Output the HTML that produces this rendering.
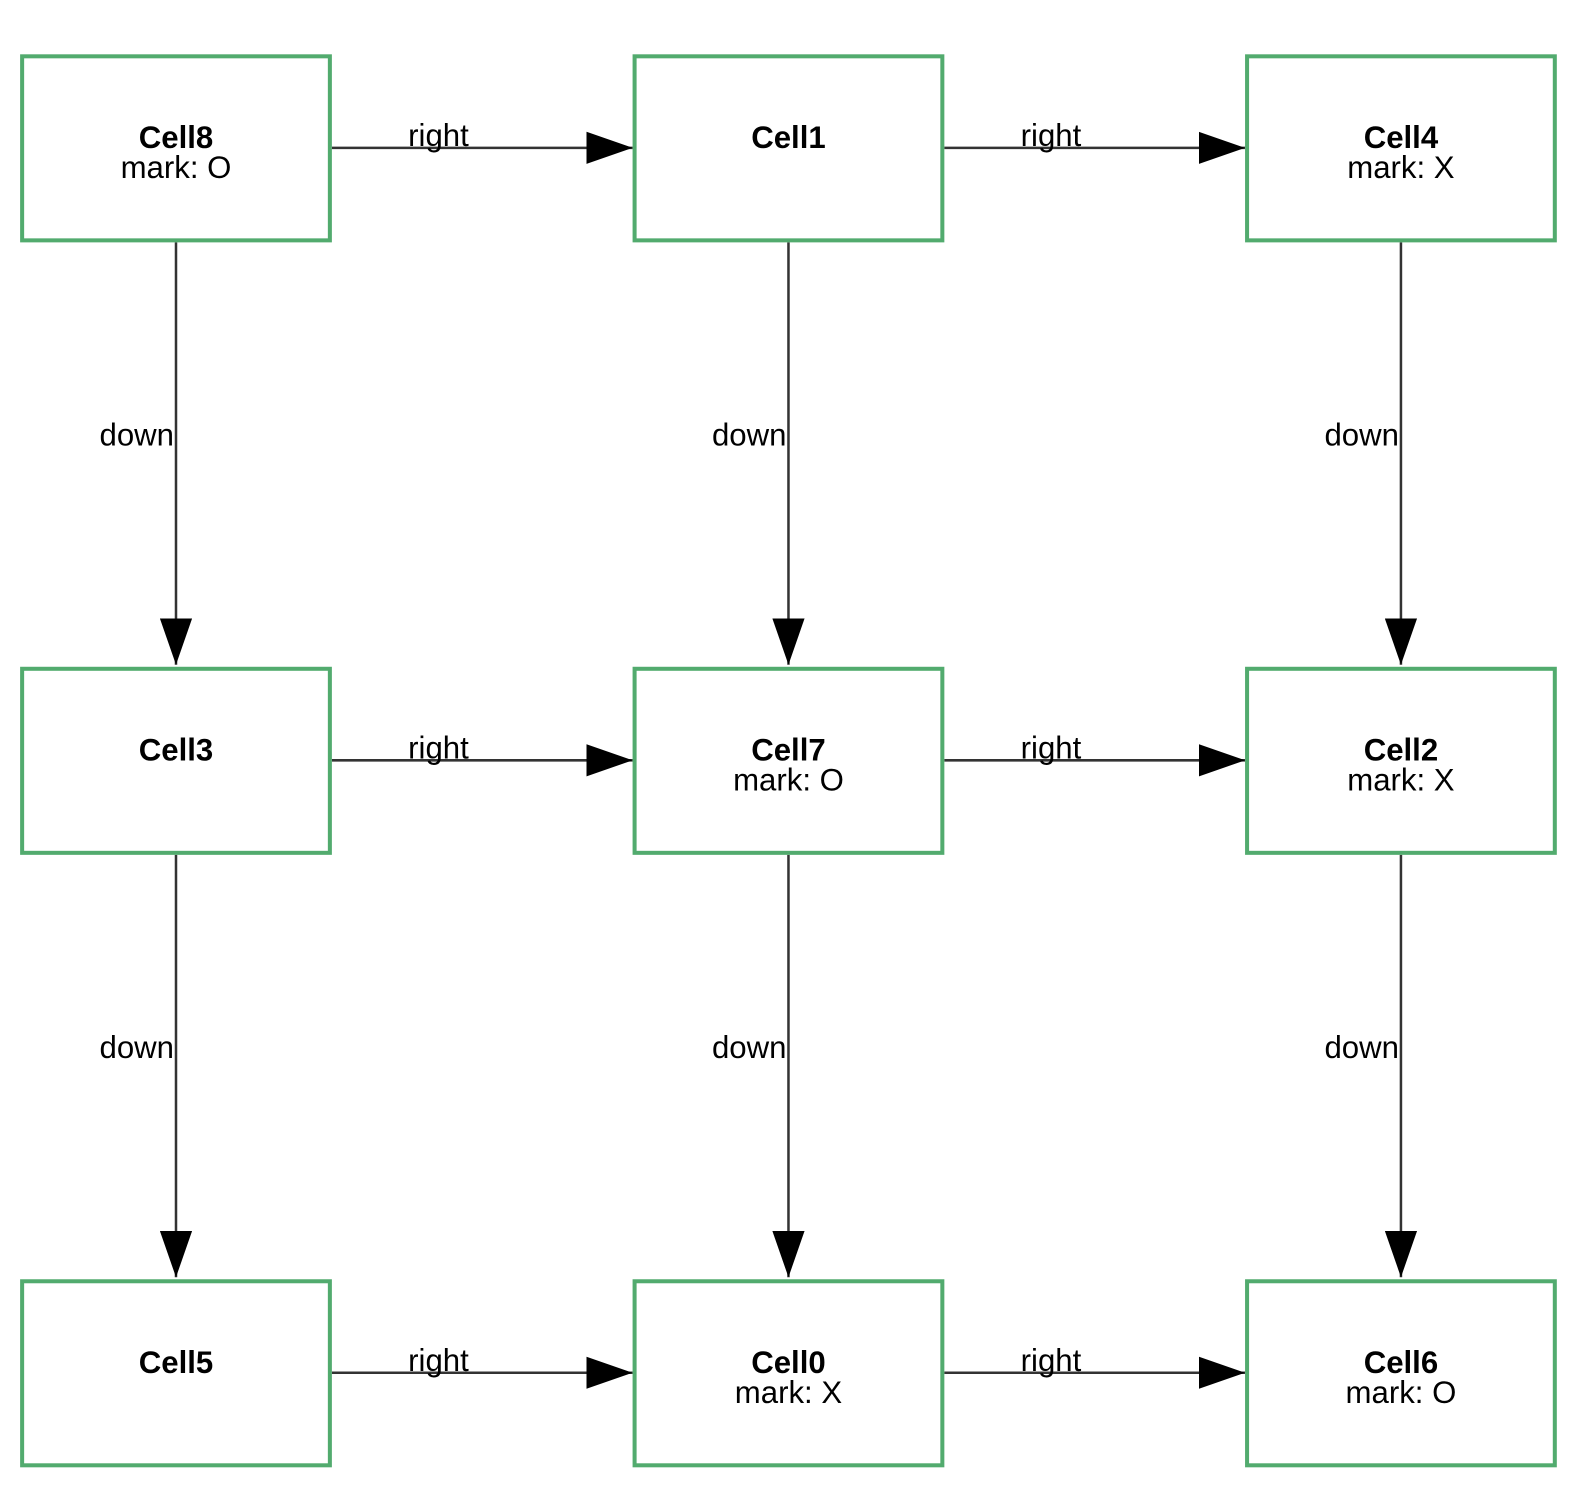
<!DOCTYPE html>
<html><head><style>html,body{margin:0;padding:0;background:#fff;overflow:hidden;width:1576px;height:1494px}svg{display:block}text{font-family:"Liberation Sans",sans-serif;font-size:31px;fill:#000}</style></head><body>
<svg width="1576" height="1494" viewBox="0 0 1576 1494">
<defs><marker id="a" markerUnits="userSpaceOnUse" markerWidth="46" markerHeight="32" refX="46" refY="16" orient="auto"><path d="M0,0L46,16L0,32z" fill="#000"/></marker></defs>
<g transform="scale(1.0057)">
<g stroke="#333" stroke-width="2.5" fill="none" marker-end="url(#a)">
<path d="M330,147H629"/><path d="M939,147H1238"/>
<path d="M330,756H629"/><path d="M939,756H1238"/>
<path d="M330,1365H629"/><path d="M939,1365H1238"/>
<path d="M175,241V661"/><path d="M784,241V661"/><path d="M1393,241V661"/>
<path d="M175,850V1270"/><path d="M784,850V1270"/><path d="M1393,850V1270"/>
</g>
<g text-anchor="middle">
<text x="436" y="145">right</text><text x="1045" y="145">right</text>
<text x="436" y="754">right</text><text x="1045" y="754">right</text>
<text x="436" y="1363">right</text><text x="1045" y="1363">right</text>
</g>
<g text-anchor="end">
<text x="173" y="443">down</text><text x="782" y="443">down</text><text x="1391" y="443">down</text>
<text x="173" y="1052">down</text><text x="782" y="1052">down</text><text x="1391" y="1052">down</text>
</g>
<g fill="#fff" stroke="#52ab6e" stroke-width="4">
<rect x="22" y="56" width="306" height="183"/><rect x="631" y="56" width="306" height="183"/><rect x="1240" y="56" width="306" height="183"/>
<rect x="22" y="665" width="306" height="183"/><rect x="631" y="665" width="306" height="183"/><rect x="1240" y="665" width="306" height="183"/>
<rect x="22" y="1274" width="306" height="183"/><rect x="631" y="1274" width="306" height="183"/><rect x="1240" y="1274" width="306" height="183"/>
</g>
<g text-anchor="middle">
<text x="175" y="147" font-weight="bold">Cell8</text><text x="175" y="177">mark: O</text>
<text x="784" y="147" font-weight="bold">Cell1</text>
<text x="1393" y="147" font-weight="bold">Cell4</text><text x="1393" y="177">mark: X</text>
<text x="175" y="756" font-weight="bold">Cell3</text>
<text x="784" y="756" font-weight="bold">Cell7</text><text x="784" y="786">mark: O</text>
<text x="1393" y="756" font-weight="bold">Cell2</text><text x="1393" y="786">mark: X</text>
<text x="175" y="1365" font-weight="bold">Cell5</text>
<text x="784" y="1365" font-weight="bold">Cell0</text><text x="784" y="1395">mark: X</text>
<text x="1393" y="1365" font-weight="bold">Cell6</text><text x="1393" y="1395">mark: O</text>
</g>
</g>
</svg>
</body></html>
